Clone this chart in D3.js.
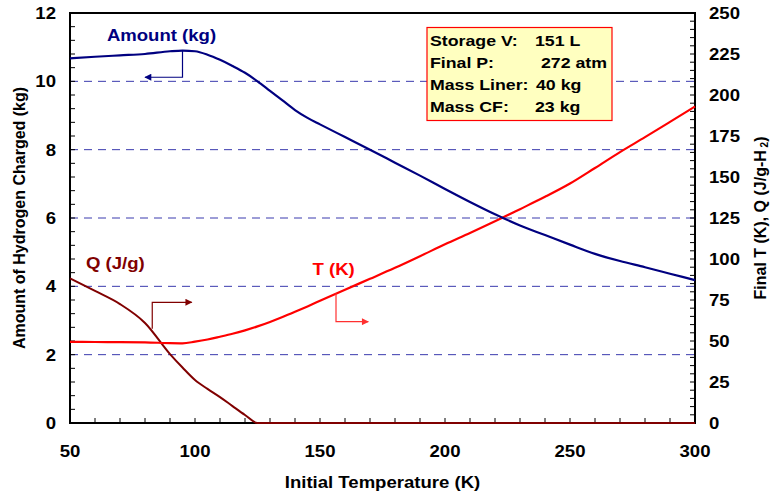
<!DOCTYPE html>
<html><head><meta charset="utf-8">
<script src="https://cdn.jsdelivr.net/npm/d3@7"></script>
<style>
body{margin:0;background:#fff;}
text{font-family:Arial,"Liberation Sans",Helvetica,sans-serif;font-weight:bold;}
</style></head>
<body><svg id="c" width="770" height="495"></svg>
<script>
// Data
const initialTemp = [50,60,70,80,90,95,100,105,110,115,120,125,130,135,140,145,150,160,170,180,190,200,210,220,230,240,250,260,270,280,290,300];
const amountKg   = [10.67,10.72,10.76,10.8,10.88,10.9,10.88,10.78,10.63,10.45,10.25,10.0,9.72,9.44,9.16,8.93,8.74,8.37,8.0,7.62,7.24,6.85,6.47,6.11,5.78,5.5,5.22,4.95,4.74,4.56,4.37,4.18];
const finalT     = [49.5,49.4,49.3,49.2,48.7,48.6,49.6,50.9,52.6,54.4,56.5,58.9,61.6,64.6,67.8,71.1,74.5,81.3,87.9,94.6,101.7,109,115.9,123,130.4,137.9,146,155.5,165.2,174.3,183.6,193];
const heatQ      = [88.2,80.5,72.5,61,42,33.8,26.2,20.8,15.8,10.3,4.9,0,0,0,0,0,0,0,0,0,0,0,0,0,0,0,0,0,0,0,0,0];
const xTicks = [50,100,150,200,250,300];
const yLeftTicks = [0,2,4,6,8,10,12];
const yRightTicks = [0,25,50,75,100,125,150,175,200,225,250];
const gridValues = [2,4,6,8,10];
const infoLabels = ["Storage V:","Final P:","Mass Liner:","Mass CF:"];
const infoValues = ["151 L","272 atm","40 kg","23 kg"];

const svg = d3.select("#c");
const L=70,R=695,T=13,B=423;
const SX=1.16;
const x = d3.scaleLinear().domain([50,300]).range([L,R]);
const yL = d3.scaleLinear().domain([0,12]).range([B,T]);
const yR = d3.scaleLinear().domain([0,250]).range([B,T]);

function htext(px,py,str,opt){
  opt=opt||{};
  return svg.append("text").attr("transform",`translate(${px},${py}) scale(${SX},1)`)
    .attr("text-anchor",opt.anchor||"start").attr("font-size",opt.size||16)
    .attr("fill",opt.fill||"#000").text(str);
}

// gridlines
svg.append("g").selectAll("line").data(gridValues).join("line")
  .attr("x1",L).attr("x2",R).attr("y1",d=>yL(d)).attr("y2",d=>yL(d))
  .attr("stroke","#3a3aae").attr("stroke-width",1).attr("stroke-dasharray","8,6");

// minor ticks
const tickLen=5;
const g = svg.append("g").attr("stroke","#000").attr("stroke-width",1);
d3.range(50,300.01,10).forEach(v=>{g.append("line").attr("x1",x(v)).attr("x2",x(v)).attr("y1",B).attr("y2",B-tickLen);});
d3.range(0,12.01,0.4).forEach(v=>{g.append("line").attr("x1",L).attr("x2",L+tickLen).attr("y1",yL(v)).attr("y2",yL(v));});
d3.range(0,250.01,5).forEach(v=>{g.append("line").attr("x1",R).attr("x2",R-tickLen).attr("y1",yR(v)).attr("y2",yR(v));});

// frame
svg.append("rect").attr("x",L).attr("y",T).attr("width",R-L).attr("height",B-T)
  .attr("fill","none").attr("stroke","#000").attr("stroke-width",2);

// tick labels
xTicks.forEach(d=>htext(x(d),B+34,d,{anchor:"middle"}));
yLeftTicks.forEach(d=>htext(L-14,yL(d)+6,d,{anchor:"end"}));
yRightTicks.forEach(d=>htext(R+14,yR(d)+6,d));

// axis titles
htext((L+R)/2,488,"Initial Temperature (K)",{anchor:"middle"});
svg.append("text").attr("transform",`translate(25,${(T+B)/2}) rotate(-90)`).attr("text-anchor","middle").attr("font-size",16).text("Amount of Hydrogen Charged (kg)");
const rt = svg.append("text").attr("transform",`translate(766,${(T+B)/2}) rotate(-90)`).attr("text-anchor","middle").attr("font-size",16);
rt.append("tspan").text("Final T (K), Q (J/g-H");
rt.append("tspan").attr("font-size",10).attr("dy",1.5).text(" 2");
rt.append("tspan").attr("dy",-1.5).text(")");

// curves
const idx = d3.range(initialTemp.length);
const lineL = d3.line().x(i=>x(initialTemp[i])).curve(d3.curveMonotoneX);
svg.append("path").attr("d",lineL.y(i=>yR(heatQ[i]))(idx)).attr("fill","none").attr("stroke","#800000").attr("stroke-width",2);
svg.append("path").attr("d",lineL.y(i=>yR(finalT[i]))(idx)).attr("fill","none").attr("stroke","#ff0000").attr("stroke-width",2.2);
svg.append("path").attr("d",lineL.y(i=>yL(amountKg[i]))(idx)).attr("fill","none").attr("stroke","#000080").attr("stroke-width",2.2);

// arrow annotations (data coords)
const defs = svg.append("defs");
function marker(id,color){
  defs.append("marker").attr("id",id).attr("viewBox","0 0 10 10").attr("refX",9).attr("refY",5)
   .attr("markerWidth",9).attr("markerHeight",7).attr("markerUnits","userSpaceOnUse").attr("orient","auto")
   .append("path").attr("d","M0,0L10,5L0,10z").attr("fill",color);
}
marker("mA","#000080");marker("mQ","#800000");marker("mT","#ff3030");
function arrow(pts,color,m){
  svg.append("path").attr("d",d3.line()(pts)).attr("fill","none").attr("stroke",color).attr("stroke-width",1.2).attr("marker-end",`url(#${m})`);
}
arrow([[x(95),yL(10.9)],[x(95),yL(10.12)],[x(80),yL(10.12)]],"#000080","mA");
arrow([[x(82.9),yR(57.5)],[x(82.9),yR(73.6)],[x(98.7),yR(73.6)]],"#800000","mQ");
arrow([[x(156.4),yR(79.1)],[x(156.4),yR(61.8)],[x(169.3),yR(61.8)]],"#ff3030","mT");

htext(161.5,41,"Amount (kg)",{anchor:"middle",fill:"#000080"});
htext(86,269,"Q (J/g)",{fill:"#800000"});
htext(312.5,275,"T (K)",{fill:"#ff0000"});

// info box
svg.append("rect").attr("x",427).attr("y",27.5).attr("width",185).attr("height",93)
  .attr("fill","#ffffc0").attr("stroke","#ff0000").attr("stroke-width",1.2);
const valX=[535,541,536,535];
infoLabels.forEach((t,i)=>{
  htext(430,46+i*22,t,{size:15.3});
  htext(valX[i],46+i*22,infoValues[i],{size:15.3});
});
</script></body></html>
